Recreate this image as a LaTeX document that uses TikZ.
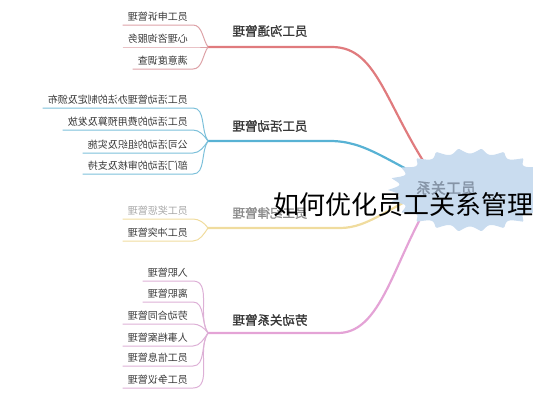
\documentclass[tikz,border=0pt]{standalone}
\usepackage{fontspec}
\usepackage{tikz}

\newfontfamily\cjk{Noto Sans CJK SC}
\newfontfamily\cjkheavy{Noto Sans CJK SC}[FakeBold=1.6]
\newcommand{\mirr}[1]{\reflectbox{#1}}

\definecolor{talkred}{HTML}{E07B7E}
\definecolor{talkredlt}{HTML}{DDA2A7}
\definecolor{actblue}{HTML}{58B2D4}
\definecolor{actbluelt}{HTML}{7CC0DA}
\definecolor{rulegold}{HTML}{F0DC9E}
\definecolor{laborpink}{HTML}{E4A3D6}
\definecolor{laborpinklt}{HTML}{DDB0D6}
\definecolor{burstblue}{HTML}{C9DCEF}
\definecolor{hubgray}{HTML}{8594A6}

\tikzset{
	kid/.style={anchor=south east, inner xsep=5pt, inner ysep=2pt, text height=8pt, text depth=2pt,
		font=\cjk\fontsize{10}{12}\selectfont, text=black!78},
	topic/.style={font=\cjkheavy\fontsize{12.5}{14}\selectfont, text=black!78},
	twig/.style={line width=1pt},
	bough/.style={line width=2.2pt, line cap=round},
	fromup/.style={out=0, in=125, looseness=0.9},
	fromdown/.style={out=0, in=235, looseness=0.9},
}

\begin{document}
\begin{tikzpicture}[x=1pt, y=-1pt]
	\useasboundingbox (0,0) rectangle (533,400);

	\coordinate (hub) at (440,186);
	\coordinate (jred) at (208,47);
	\coordinate (jblue) at (208,141);
	\coordinate (jgold) at (208,228);
	\coordinate (jpink) at (208,333);

	\node[topic] (redtopic) at (270,31) {\mirr{员工沟通管理}};
	\node[topic] (bluetopic) at (270,126) {\mirr{员工活动管理}};
	\node[topic, text=black!45] (goldtopic) at (270,213) {\mirr{员工纪律管理}};
	\node[topic] (pinktopic) at (270,320) {\mirr{劳动关系管理}};

	\draw[bough, talkred] (jred) -- (332,47) .. controls (380,47) and (385,110) .. (hub);
	\draw[bough, actblue] (jblue) -- (330,141) .. controls (365,141) and (385,160) .. (hub);
	\draw[bough, rulegold] (jgold) -- (340,228) .. controls (370,228) and (390,205) .. (hub);
	\draw[bough, laborpink] (jpink) -- (338,333) .. controls (385,333) and (395,250) .. (hub);

	\node[kid] (red1) at (193,25) {\mirr{员工申诉管理}};
	\node[kid] (red2) at (193,47) {\mirr{心理咨询服务}};
	\node[kid] (red3) at (193,69) {\mirr{满意度调查}};
	\draw[twig, talkredlt] (red1.south west) -- (red1.south east) to[fromup] (jred);
	\draw[twig, talkredlt] (red2.south west) -- (red2.south east) -- (jred);
	\draw[twig, talkredlt] (red3.south west) -- (red3.south east) to[fromdown] (jred);

	\node[kid] (blue1) at (193,108) {\mirr{员工活动管理办法的制定及颁布}};
	\node[kid] (blue2) at (193,130) {\mirr{员工活动的费用预算及发放}};
	\node[kid] (blue3) at (193,153) {\mirr{公司活动的组织及实施}};
	\node[kid] (blue4) at (193,174) {\mirr{部门活动的审核及支持}};
	\draw[twig, actbluelt] (blue1.south west) -- (blue1.south east) to[fromup] (jblue);
	\draw[twig, actbluelt] (blue2.south west) -- (blue2.south east) to[fromup] (jblue);
	\draw[twig, actbluelt] (blue3.south west) -- (blue3.south east) to[fromdown] (jblue);
	\draw[twig, actbluelt] (blue4.south west) -- (blue4.south east) to[fromdown] (jblue);

	\node[kid, text=black!35] (gold1) at (193,219) {\mirr{员工奖惩管理}};
	\node[kid] (gold2) at (193,241) {\mirr{员工冲突管理}};
	\draw[twig, rulegold] (gold1.south west) -- (gold1.south east) to[fromup] (jgold);
	\draw[twig, rulegold] (gold2.south west) -- (gold2.south east) to[fromdown] (jgold);

	\node[kid] (pink1) at (193,281) {\mirr{入职管理}};
	\node[kid] (pink2) at (193,302) {\mirr{离职管理}};
	\node[kid] (pink3) at (193,324) {\mirr{劳动合同管理}};
	\node[kid] (pink4) at (193,346) {\mirr{人事档案管理}};
	\node[kid] (pink5) at (193,366) {\mirr{员工信息管理}};
	\node[kid] (pink6) at (193,388) {\mirr{员工争议管理}};
	\draw[twig, laborpinklt] (pink1.south west) -- (pink1.south east) to[fromup] (jpink);
	\draw[twig, laborpinklt] (pink2.south west) -- (pink2.south east) to[fromup] (jpink);
	\draw[twig, laborpinklt] (pink3.south west) -- (pink3.south east) to[fromup] (jpink);
	\draw[twig, laborpinklt] (pink4.south west) -- (pink4.south east) to[fromdown] (jpink);
	\draw[twig, laborpinklt] (pink5.south west) -- (pink5.south east) to[fromdown] (jpink);
	\draw[twig, laborpinklt] (pink6.south west) -- (pink6.south east) to[fromdown] (jpink);

	\fill[burstblue] plot[domain=0:360, samples=241, variable=\t]
		({470+82*cos(\t)*(1-0.13*abs(sin(11*\t)))}, {190+42*sin(\t)*(1-0.13*abs(sin(11*\t)))}) -- cycle;
	\node[font=\cjkheavy\fontsize{15}{17}\selectfont, text=hubgray] (hubtag) at (446,188) {\mirr{员工关系}};

	\node[anchor=west, inner sep=0pt, font=\cjk\fontsize{26}{28}\selectfont] (headline) at (273,205) {如何优化员工关系管理};
\end{tikzpicture}
\end{document}
